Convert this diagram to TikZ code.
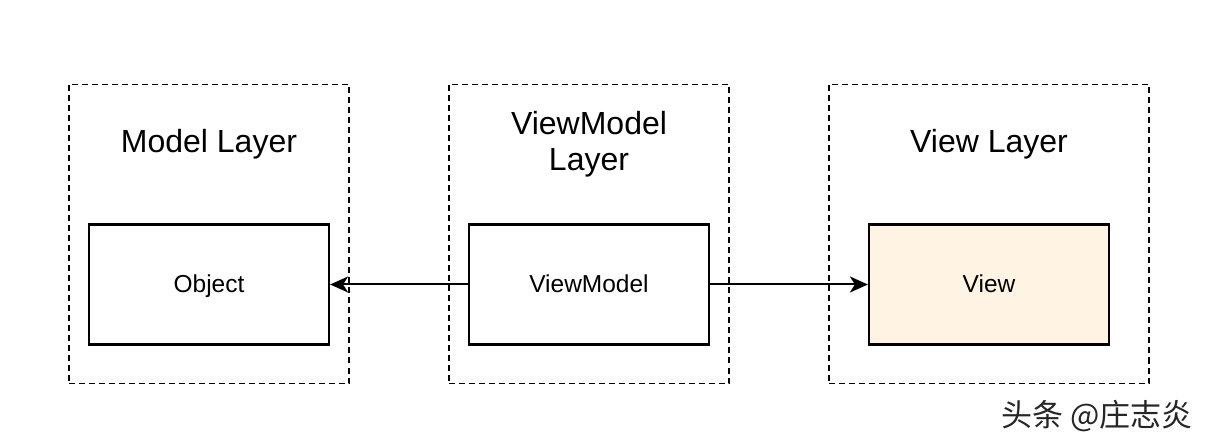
\documentclass[tikz,border=0pt]{standalone}
\usepackage{fontspec}
\setmainfont{Liberation Sans}
\newfontfamily\cjk{Noto Sans CJK SC}
\usetikzlibrary{arrows.meta,positioning}
\definecolor{viewfill}{HTML}{FFF4E3}
\tikzset{
  layer/.style = {draw, dash pattern=on 6pt off 4pt, line width=1.8pt,
                  minimum width=280pt, minimum height=299pt, inner sep=0pt},
  title/.style = {font=\fontsize{32}{36}\selectfont, align=center},
  block/.style = {draw, line width=2.2pt, minimum width=240pt,
                  minimum height=120pt, fill=white,
                  text height=18pt, text depth=1pt,
                  font=\fontsize{24.5}{28}\selectfont}
}

\begin{document}
\begin{tikzpicture}[x=1pt, y=-1pt, >={Stealth[length=18pt,width=16pt,inset=5pt]}]

\useasboundingbox[fill=white] (0,0) rectangle (1208,438);

% dashed layers
\node[layer] at (209,234) (ModelLayer) {};
\node[layer] at (589,234) (ViewModelLayer) {};
\node[layer, minimum width=320pt] at (989,234) (ViewLayer) {};

% layer titles
\node[title, anchor=base] at (209,153) (ModelTitle) {Model Layer};
\node[title, anchor=base] at (589,171) (ViewModelTitle) {ViewModel\\Layer};
\node[title, anchor=base] at (989,153) (ViewTitle) {View Layer};

% blocks
\node[block] at (209,284.5) (Object) {Object};
\node[block] at (589,284.5) (ViewModel) {ViewModel};
\node[block, fill=viewfill] at (989,284.5) (View) {View};

\draw[->, line width=2pt] (ViewModel) -- (Object);
\draw[->, line width=2pt] (ViewModel) -- (View);

% watermark
\node[anchor=base east, font=\cjk\fontsize{31}{33}\selectfont, text=black!85]
  at (1196,426) (Mark) {头条 @庄志炎};

\end{tikzpicture}
\end{document}
